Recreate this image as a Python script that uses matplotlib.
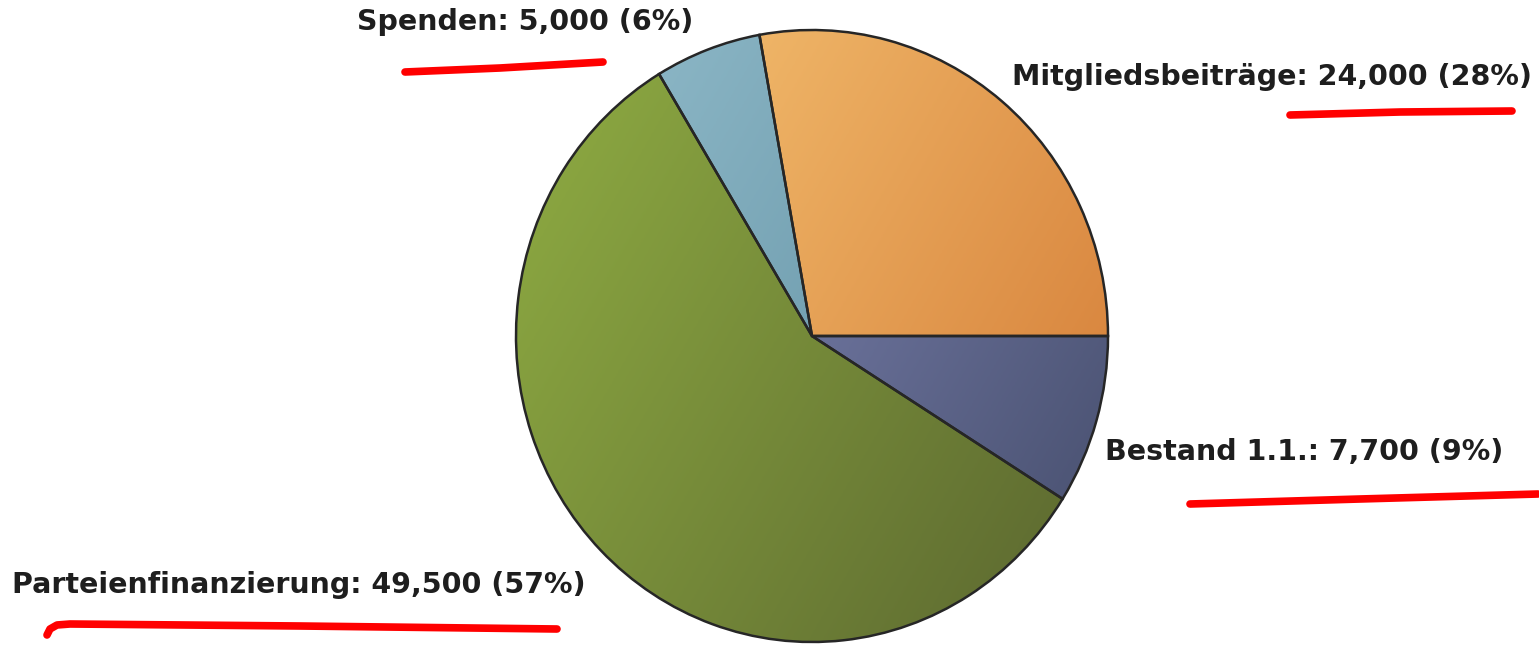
import matplotlib
matplotlib.use("Agg")
import matplotlib.pyplot as plt
import numpy as np
from matplotlib.colors import LinearSegmentedColormap

# Slice data (counter-clockwise from 3 o'clock)
names = ["Mitgliedsbeiträge", "Spenden", "Parteienfinanzierung", "Bestand 1.1."]
values = [24000, 5000, 49500, 7700]
light_colors = ["#f7c676", "#92bccb", "#8eab42", "#8c92c4"]
dark_colors = ["#d47c36", "#57879a", "#5c6830", "#474f6e"]

W, H = 1539, 648
fig = plt.figure(figsize=(W / 100, H / 100), dpi=100)
fig.patch.set_facecolor("white")

# pie centre and radii in pixels (slightly taller than wide, like the source)
cx, cy = 812, 336
rx, ry = 296, 306
lim = 1.05
ax = fig.add_axes([(cx - lim * rx) / W, (H - cy - lim * ry) / H,
                   2 * lim * rx / W, 2 * lim * ry / H])

wedges, _ = ax.pie(values, startangle=0, counterclock=True, radius=1.0,
                   colors=light_colors,
                   wedgeprops=dict(edgecolor="#262626", linewidth=1.8))
ax.set_aspect("auto")
ax.set_xlim(-lim, lim)
ax.set_ylim(-lim, lim)
ax.axis("off")

# diagonal gradient: light at upper left, dark at lower right
xx, yy = np.meshgrid(np.linspace(-1, 1, 400), np.linspace(1, -1, 400))
grad = np.clip((0.75 * xx - 0.45 * yy + 1.1) / 2.2, 0, 1)
for w, lc, dc in zip(wedges, light_colors, dark_colors):
    cmap = LinearSegmentedColormap.from_list("g", [lc, dc])
    im = ax.imshow(grad, cmap=cmap, extent=(-1, 1, -1, 1), aspect="auto",
                   interpolation="bilinear", zorder=1)
    im.set_clip_path(w)
    w.set_facecolor("none")
    w.set_zorder(5)
ax.set_xlim(-lim, lim)
ax.set_ylim(-lim, lim)

total = sum(values)
labels = [f"{n}: {v:,} ({round(100 * v / total)}%)" for n, v in zip(names, values)]

# label anchors (left x, centre y) in pixels
label_pos = [(1012, 77), (357, 22), (12, 585), (1105, 452)]
for lab, (px, py) in zip(labels, label_pos):
    fig.text(px / W, 1 - py / H, lab, fontsize=20.5, fontweight="bold",
             color="#1e1e1e", ha="left", va="center", family="DejaVu Sans")

# hand-drawn red underlines
underlines = [
    [(405, 72), (500, 68), (603, 62)],
    [(1290, 115), (1400, 112), (1512, 111)],
    [(1190, 504), (1360, 499), (1538, 494)],
    [(47, 635), (50, 629), (57, 625), (70, 624), (300, 626), (557, 629)],
]
for pts in underlines:
    xs = [p[0] / W for p in pts]
    ys = [1 - p[1] / H for p in pts]
    fig.add_artist(plt.Line2D(xs, ys, color="#ff0000", linewidth=5.5,
                              solid_capstyle="round", solid_joinstyle="round"))

fig.savefig("out.png", dpi=100, facecolor="white")
